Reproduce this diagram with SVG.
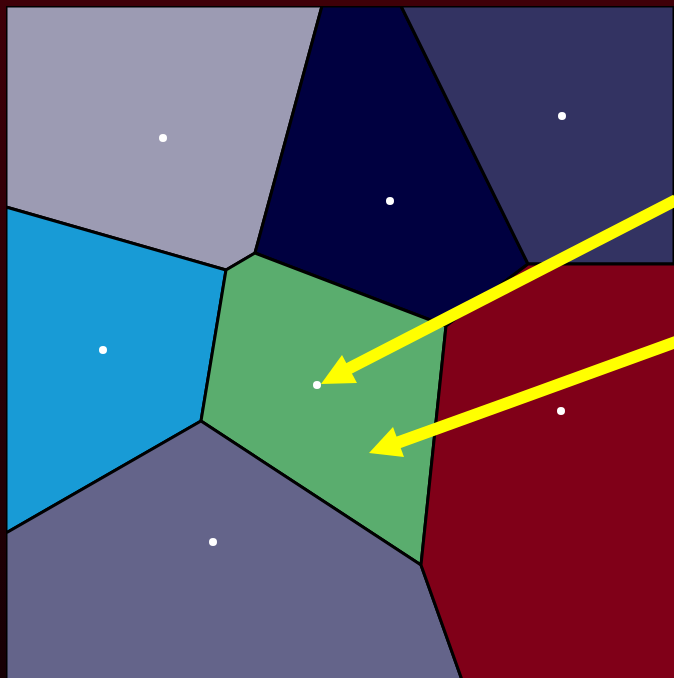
<svg xmlns="http://www.w3.org/2000/svg" width="674" height="678" viewBox="0 0 674 678">
<style>
.cell{stroke:#000;stroke-width:3;stroke-linejoin:round}
.seed{fill:#fff}
.arr{stroke:#ffff00;stroke-width:12;fill:none}
.head{fill:#ffff00}
</style>
<defs>
<linearGradient id="lg" x1="0" y1="0" x2="0" y2="1">
<stop offset="0" stop-color="#3f0008"/>
<stop offset="1" stop-color="#160004"/>
</linearGradient>
</defs>
<g id="cell-lavender"><polygon class="cell" fill="#9c9bb3" points="6,6 322,6 255,253 226,270 6,207"/><circle class="seed" cx="163" cy="138" r="4"/></g>
<g id="cell-navy"><polygon class="cell" fill="#000040" points="322,6 401,6 528,264 446,326 255,253"/><circle class="seed" cx="390" cy="201" r="4"/></g>
<g id="cell-slate"><polygon class="cell" fill="#333362" points="401,6 674,6 674,264 528,264"/><circle class="seed" cx="562" cy="116" r="4"/></g>
<g id="cell-blue"><polygon class="cell" fill="#189bd6" points="6,207 226,270 201,421 6,533"/><circle class="seed" cx="103" cy="350" r="4"/></g>
<g id="cell-green"><polygon class="cell" fill="#5aad6e" points="255,253 446,326 421,565 201,421 226,270"/><circle class="seed" cx="317" cy="385" r="4"/></g>
<g id="cell-purple"><polygon class="cell" fill="#64648a" points="6,533 201,421 421,565 462,680 6,680"/><circle class="seed" cx="213" cy="542" r="4"/></g>
<g id="cell-red"><polygon class="cell" fill="#800018" points="446,326 528,264 676,264 676,680 462,680 421,565"/><circle class="seed" cx="561" cy="411" r="4"/></g>
<g id="connectors">
<line class="arr" x1="676" y1="200" x2="344" y2="371"/>
<polygon class="head" points="321,384 342,355 357,383"/>
<line class="arr" x1="676" y1="342" x2="394" y2="444"/>
<polygon class="head" points="369,453 393,427 404,457"/>
</g>
<rect x="0" y="0" width="674" height="6" fill="#3f0008"/>
<rect x="0" y="0" width="6" height="678" fill="url(#lg)"/>
</svg>
